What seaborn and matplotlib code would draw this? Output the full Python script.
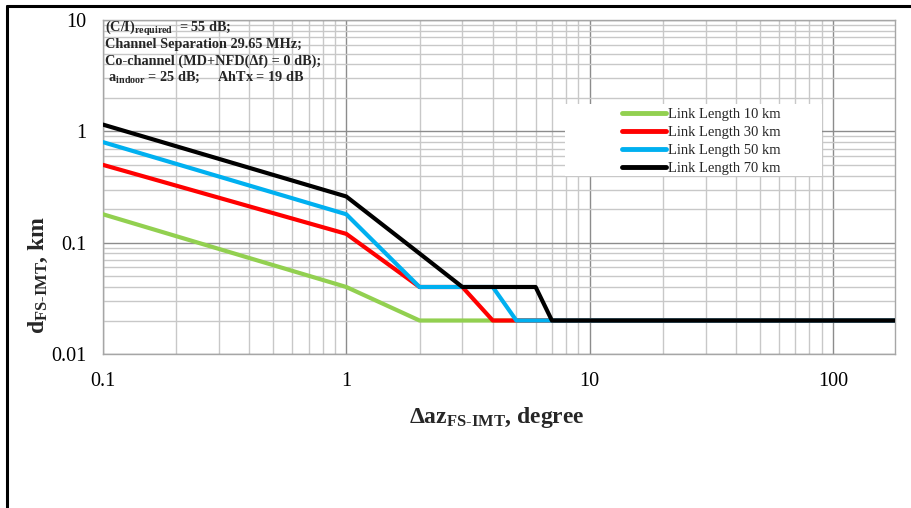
import matplotlib
matplotlib.use("Agg")
import matplotlib.pyplot as plt
import numpy as np
import pandas as pd
import seaborn as sns
from matplotlib.lines import Line2D
from matplotlib.patches import Rectangle
from matplotlib.ticker import LogLocator, NullFormatter, FixedLocator, FixedFormatter

# azimuth separation (degree) and separation distance (km) per link length
az = [0.1, 1, 2, 3, 4, 5, 6, 7, 180]
d_10km = [0.18, 0.04, 0.02, 0.02, 0.02, 0.02, 0.02, 0.02, 0.02]
d_30km = [0.5, 0.12, 0.04, 0.04, 0.02, 0.02, 0.02, 0.02, 0.02]
d_50km = [0.8, 0.18, 0.04, 0.04, 0.04, 0.02, 0.02, 0.02, 0.02]
d_70km = [1.15, 0.26, 0.08, 0.04, 0.04, 0.04, 0.04, 0.02, 0.02]

series_names = ["Link Length 10 km", "Link Length 30 km", "Link Length 50 km", "Link Length 70 km"]
series_colors = ["#92D050", "#FF0000", "#00B0F0", "#000000"]

x_ticks = [0.1, 1, 10, 100]
x_tick_labels = ["0.1", "1", "10", "100"]
y_ticks = [0.01, 0.1, 1, 10]
y_tick_labels = ["0.01", "0.1", "1", "10"]

notes = [
    r"(C/I)$_{\mathbf{required}}$  = 55 dB;",
    "Channel Separation 29.65 MHz;",
    "Co-channel (MD+NFD(Δf) = 0 dB);",
    r" a$_{\mathbf{indoor}}$ = 25 dB;     AhTx = 19 dB",
]

df = pd.DataFrame({
    "az": az * 4,
    "d": d_10km + d_30km + d_50km + d_70km,
    "series": np.repeat(series_names, len(az)),
})

sns.set_style("white")
plt.rcParams["font.family"] = ["Liberation Serif", "DejaVu Serif"]
plt.rcParams["mathtext.fontset"] = "custom"
plt.rcParams["mathtext.rm"] = "Liberation Serif"
plt.rcParams["mathtext.it"] = "Liberation Serif:italic"
plt.rcParams["mathtext.bf"] = "Liberation Serif:bold"

fig = plt.figure(figsize=(9.12, 5.08), dpi=100, facecolor="white")
ax = fig.add_axes([0.1129, 0.3031, 0.8685, 0.6575])

sns.lineplot(data=df, x="az", y="d", hue="series", hue_order=series_names,
             palette=dict(zip(series_names, series_colors)), estimator=None,
             sort=False, linewidth=3, ax=ax, legend=False, zorder=3)

ax.set_xscale("log")
ax.set_yscale("log")
ax.set_xlim(0.1, 180)
ax.set_ylim(0.01, 10)

ax.xaxis.set_major_locator(FixedLocator(x_ticks))
ax.xaxis.set_major_formatter(FixedFormatter(x_tick_labels))
ax.yaxis.set_major_locator(FixedLocator(y_ticks))
ax.yaxis.set_major_formatter(FixedFormatter(y_tick_labels))
ax.xaxis.set_minor_locator(LogLocator(base=10, subs=np.arange(2, 10)))
ax.yaxis.set_minor_locator(LogLocator(base=10, subs=np.arange(2, 10)))
ax.xaxis.set_minor_formatter(NullFormatter())
ax.yaxis.set_minor_formatter(NullFormatter())

ax.grid(which="major", color="#8c8c8c", linewidth=1.0, zorder=0)
ax.grid(which="minor", color="#c8c8c8", linewidth=1.0, zorder=0)
ax.set_axisbelow(True)
ax.tick_params(which="both", length=0, labelsize=14.5, colors="black")
ax.tick_params(axis="x", pad=13)
ax.tick_params(axis="y", pad=12)
for side in ["left", "right", "top", "bottom"]:
    ax.spines[side].set_color("#a6a6a6")
    ax.spines[side].set_linewidth(1.0)

ax.set_xlabel(r"$\mathbf{\Delta az_{FS\text{-}IMT}}$, degree", fontsize=17, fontweight="bold")
ax.set_ylabel(r"$\mathbf{d_{FS\text{-}IMT}}$, km", fontsize=17, fontweight="bold")
ax.xaxis.set_label_coords(0.497, -0.153)
ax.yaxis.set_label_coords(-0.067, 0.236)

# notes block in the upper-left corner
for i, line in enumerate(notes):
    ax.text(0.003, 0.975 - i * 0.049, line, transform=ax.transAxes, fontsize=10.3,
            fontweight="bold", va="center", ha="left", zorder=4)

# white legend area
ax.add_patch(Rectangle((0.583, 0.533), 0.325, 0.216, transform=ax.transAxes,
                       facecolor="white", edgecolor="none", zorder=4))
handles = [Line2D([0], [0], color=c, linewidth=3.5, solid_capstyle="round") for c in series_colors]
leg = ax.legend(handles, series_names, loc="upper left", bbox_to_anchor=(0.655, 0.736),
                frameon=False, borderpad=0, borderaxespad=0, handlelength=3.0,
                handletextpad=0.15, labelspacing=0.33, fontsize=10.5)
leg.set_zorder(5)

# outer frame lines (top and left)
fig.add_artist(Line2D([7 / 912, 1], [1 - 6 / 508, 1 - 6 / 508], transform=fig.transFigure,
                      color="black", linewidth=2.2))
fig.add_artist(Line2D([7 / 912, 7 / 912], [0, 1 - 6 / 508], transform=fig.transFigure,
                      color="black", linewidth=2.2))

fig.savefig("out.png", dpi=100, facecolor="white")
